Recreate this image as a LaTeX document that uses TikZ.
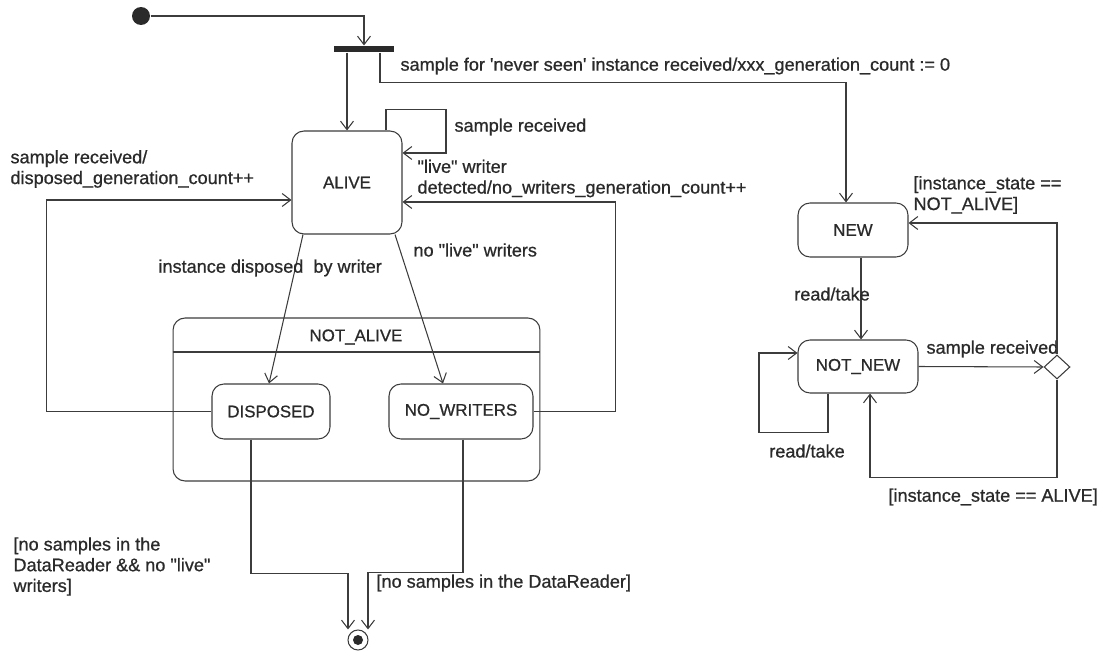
\documentclass[tikz,border=0pt]{standalone}
\usepackage{fontspec}
\setmainfont[FakeBold=0.8]{Liberation Sans}
\usetikzlibrary{arrows.meta,shapes.geometric}
\definecolor{ink}{HTML}{3C3C3C}
\definecolor{txt}{HTML}{2A2A2A}
\begin{document}
\begin{tikzpicture}[x=0.02cm,y=-0.02cm,
  line width=0.6pt,
  arr/.style={draw=ink,-{Straight Barb[length=0.17cm,width=0.26cm,line width=0.6pt]}},
  conn/.style={draw=ink},
  statebox/.style={draw=ink,rounded corners=0.24cm,inner sep=0pt,text=txt,
    font=\fontsize{9.6}{11}\selectfont},
  lbl/.style={inner sep=0pt,anchor=west,text=txt,align=left,
    font=\fontsize{10.3}{11.8}\selectfont}]
\useasboundingbox (0,0) rectangle (1100,652);

% pseudo states
\node[circle,fill=txt,minimum size=0.36cm,inner sep=0pt] (init) at (141,16) {};
\node[rectangle,fill=txt,minimum width=1.2cm,minimum height=0.12cm,inner sep=0pt] (bar) at (364,49) {};
\node[circle,draw=ink,minimum size=0.4cm,inner sep=0pt] (final) at (358,640) {};
\node[circle,fill=txt,minimum size=0.2cm,inner sep=0pt] (finaldot) at (final) {};
\node[diamond,draw=ink,fill=white,aspect=1,minimum width=0.52cm,minimum height=0.48cm,inner sep=0pt] (dia) at (1057,367) {};

% states
\node[statebox,minimum width=2.2cm,minimum height=2.06cm] (alive) at (347,182.5) {ALIVE};
\node[statebox,minimum width=7.34cm,minimum height=3.26cm] (notalive) at (356.5,399.5) {};
\draw[conn] (notalive.west |- 0,352) -- (notalive.east |- 0,352);
\node[text=txt,font=\fontsize{9.6}{11}\selectfont,inner sep=0pt] (natitle) at (356,337) {NOT\_ALIVE};
\node[statebox,minimum width=2.36cm,minimum height=1.1cm] (disposed) at (271,411.5) {DISPOSED};
\node[statebox,minimum width=2.88cm,minimum height=1.1cm] (nowriters) at (461,411.5) {NO\_WRITERS};
\node[statebox,minimum width=2.2cm,minimum height=1.08cm] (new) at (853,230) {NEW};
\node[statebox,minimum width=2.4cm,minimum height=1.06cm] (notnew) at (858,366.5) {NOT\_NEW};

% initial transitions
\draw[arr] (init.east) -| (bar.north);
\draw[arr] (bar.south -| alive.north) -- (alive.north);
\draw[arr] ([shift={(16,0)}]bar.south) -- ++(0,30) -| ([shift={(-7,0)}]new.north);
\node[lbl] (l1) at (400,66) {sample for \textquotesingle never seen\textquotesingle\ instance received/xxx\_generation\_count := 0};

% ALIVE self loop
\draw[arr] ([shift={(39,0)}]alive.north) -- ++(0,-21) -- ++(60,0) |- ([shift={(0,-29.5)}]alive.east);
\node[lbl] (l2) at (454,127) {sample received};
\node[lbl] (l3) at (417,178.5) {\textquotedbl live\textquotedbl\ writer\\detected/no\_writers\_generation\_count++};

% DISPOSED -> ALIVE
\draw[arr] (disposed.west) -- ++(-165,0) |- ([shift={(0,17.5)}]alive.west);
\node[lbl] (l4) at (10,169) {sample received/\\disposed\_generation\_count++};

% NO_WRITERS -> ALIVE
\draw[arr] (nowriters.east) -- ++(82,0) |- ([shift={(0,19.5)}]alive.east);

% ALIVE -> DISPOSED / NO_WRITERS
\draw[arr] ([shift={(-44,0)}]alive.south) -- ([shift={(-2,0)}]disposed.north);
\node[lbl] (l5) at (158,268) {instance disposed \ by writer};
\draw[arr] ([shift={(48,0)}]alive.south) -- ([shift={(-18,0)}]nowriters.north);
\node[lbl] (l6) at (413,250) {no \textquotedbl live\textquotedbl\ writers};

% NEW -> NOT_NEW
\draw[arr] ([shift={(8,0)}]new.south) -- ([shift={(8,0)}]new.south |- notnew.north);
\node[lbl,anchor=center] (l7) at (832,294) {read/take};

% NOT_NEW self loop
\draw[arr] ([shift={(-30,0)}]notnew.south) -- ++(0,39) -- ++(-69,0) |- ([shift={(0,-13.5)}]notnew.west);
\node[lbl,anchor=center] (l8) at (807,451) {read/take};

% NOT_NEW -> choice
\draw[arr] (notnew.east) -- (dia.west);
\node[lbl] (l9) at (926,349) {sample received};

% choice -> NEW
\draw[arr] (dia.north) |- ([shift={(0,-7)}]new.east);
\node[lbl] (l10) at (913,195) {[instance\_state ==\\NOT\_ALIVE]};

% choice -> NOT_NEW
\draw[arr] (dia.south) -- ++(0,98) -| ([shift={(12,0)}]notnew.south);
\node[lbl] (l11) at (888,497) {[instance\_state == ALIVE]};

% to final
\draw[arr] ([shift={(-20,0)}]disposed.south) -- ++(0,134) -| ([shift={(-10,0)}]final.north);
\node[lbl] (l12) at (13,566.5) {[no samples in the\\DataReader \&\& no \textquotedbl live\textquotedbl\\writers]};
\draw[arr] ([shift={(2,0)}]nowriters.south) -- ++(0,133) -| ([shift={(10,0)}]final.north);
\node[lbl] (l13) at (376,583) {[no samples in the DataReader]};
\end{tikzpicture}
\end{document}
